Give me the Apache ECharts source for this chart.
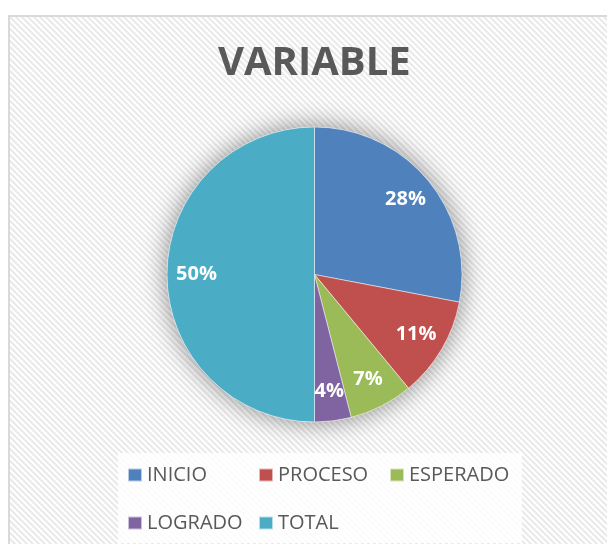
<!DOCTYPE html>
<html>
<head>
<meta charset="utf-8">
<script src="https://cdn.jsdelivr.net/npm/echarts@6/dist/echarts.min.js"></script>
<style>
  html, body { margin: 0; padding: 0; overflow: hidden; background: #fff; }
  #main { width: 607px; height: 544px; }
</style>
</head>
<body>
<div id="main"></div>
<script>
const chartTitle = 'VARIABLE'
const categories = ['INICIO', 'PROCESO', 'ESPERADO', 'LOGRADO', 'TOTAL']
const values = [28, 11, 7, 4, 50]
const colors = ['#4F81BD', '#C0504D', '#9BBB59', '#8064A2', '#4BACC6']

// diagonal stripe texture like the excel chart area
function stripeCanvas () {
  const c = document.createElement('canvas')
  c.width = 6
  c.height = 6
  const ctx = c.getContext('2d')
  ctx.fillStyle = '#ffffff'
  ctx.fillRect(0, 0, 6, 6)
  ctx.strokeStyle = '#e9e9e9'
  ctx.lineWidth = 2
  ctx.beginPath()
  ctx.moveTo(-3, -3); ctx.lineTo(9, 9)
  ctx.moveTo(-9, -3); ctx.lineTo(3, 9)
  ctx.moveTo(3, -3); ctx.lineTo(15, 9)
  ctx.stroke()
  return c
}

const chart = echarts.init(document.getElementById('main'))
const center = [314.5, 274.5]
const radius = 147.5

const pieData = categories.map((name, i) => ({
  name: name,
  value: values[i],
  itemStyle: { color: colors[i] }
}))

const option = {
  animation: false,
  backgroundColor: '#ffffff',
  graphic: [{
    type: 'rect',
    left: 8,
    top: 15,
    z: -10,
    shape: { width: 640, height: 560 },
    style: {
      fill: { image: stripeCanvas(), repeat: 'repeat' },
      stroke: '#d9d9d9',
      lineWidth: 2
    }
  }],
  title: {
    text: chartTitle,
    left: 218,
    top: 44,
    padding: 0,
    textStyle: {
      fontFamily: '"Open Sans", sans-serif',
      fontWeight: 'bold',
      fontSize: 40,
      color: '#595959'
    }
  },
  legend: {
    data: categories,
    left: 118,
    top: 453,
    width: 395,
    padding: [2, 10, 0, 9],
    backgroundColor: 'rgba(255,255,255,0.85)',
    icon: 'rect',
    itemWidth: 14,
    itemHeight: 13,
    itemGap: 8,
    textStyle: {
      fontFamily: '"Open Sans", sans-serif',
      fontSize: 20,
      color: '#595959',
      width: 103,
      lineHeight: 40
    }
  },
  series: [
    {
      // soft halo under the pie
      type: 'pie',
      center: center,
      radius: [0, radius],
      silent: true,
      z: 1,
      label: { show: false },
      labelLine: { show: false },
      itemStyle: {
        color: '#ffffff',
        shadowBlur: 26,
        shadowColor: 'rgba(0,0,0,0.45)'
      },
      data: [{ name: '_base', value: 1 }]
    },
    {
      type: 'pie',
      center: center,
      radius: [0, radius],
      startAngle: 90,
      z: 2,
      label: { show: false },
      labelLine: { show: false },
      itemStyle: { borderColor: 'rgba(255,255,255,0.6)', borderWidth: 0.8 },
      data: pieData
    },
    {
      // invisible wider pie, only to sit the labels further out
      type: 'pie',
      center: center,
      radius: [0, radius * 1.56],
      startAngle: 90,
      silent: true,
      z: 3,
      itemStyle: { color: 'rgba(0,0,0,0)' },
      label: {
        show: true,
        position: 'inside',
        formatter: '{d}%',
        fontFamily: '"Open Sans", sans-serif',
        fontWeight: 'bold',
        fontSize: 20,
        color: '#ffffff'
      },
      labelLine: { show: false },
      data: pieData.map(d => ({ name: d.name, value: d.value }))
    }
  ]
}

chart.setOption(option)
</script>
</body>
</html>
